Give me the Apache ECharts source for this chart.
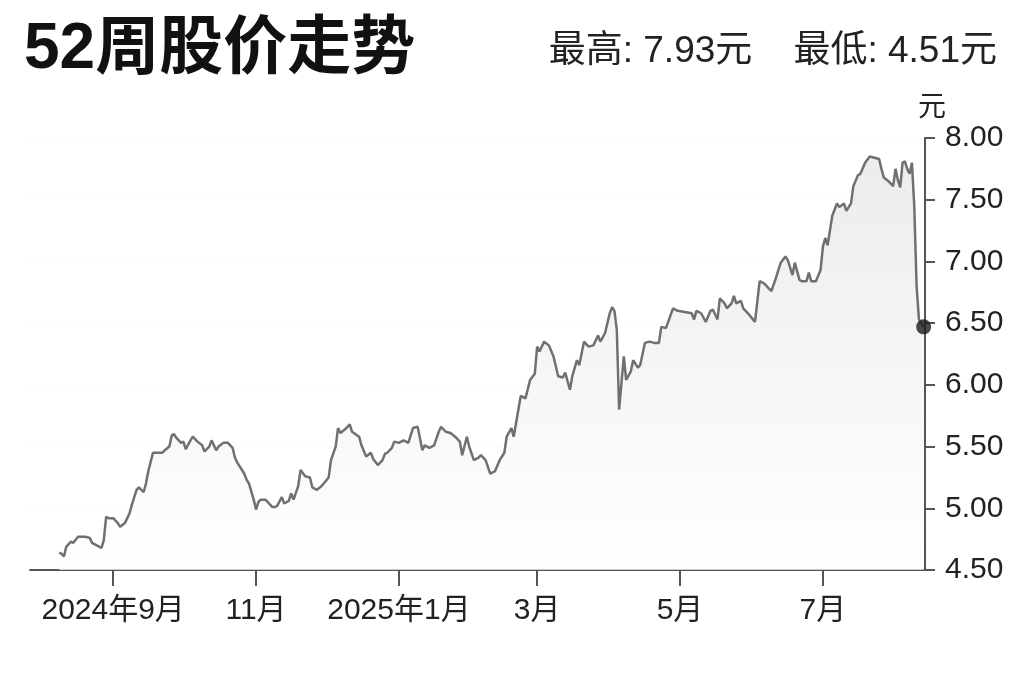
<!DOCTYPE html>
<html><head><meta charset="utf-8">
<script src="https://cdn.jsdelivr.net/npm/echarts@6/dist/echarts.min.js"></script>
<style>html,body{margin:0;padding:0;background:#fff}#c{width:1024px;height:682px}</style>
</head><body><div id="c"></div>
<script>
const titleText = '52周股价走势';
const highLowText = '最高: 7.93元    最低: 4.51元';
const yUnit = '元';
const tickDates = ['2024-09-01','2024-11-01','2025-01-01','2025-03-01','2025-05-01','2025-07-01'];
const tickLabels = ['2024年9月','11月','2025年1月','3月','5月','7月'];
const yMin = 4.5, yMax = 8, yStep = 0.5;

const dates = [
'2024-08-09','2024-08-10','2024-08-11','2024-08-12','2024-08-14','2024-08-15','2024-08-17','2024-08-20','2024-08-22','2024-08-23',
'2024-08-25','2024-08-27','2024-08-28','2024-08-29','2024-08-30','2024-09-01','2024-09-03','2024-09-04','2024-09-06','2024-09-08',
'2024-09-09','2024-09-11','2024-09-12','2024-09-14','2024-09-15','2024-09-16','2024-09-18','2024-09-20','2024-09-22','2024-09-23',
'2024-09-25','2024-09-26','2024-09-27','2024-09-28','2024-09-30','2024-10-01','2024-10-02','2024-10-04','2024-10-05','2024-10-07',
'2024-10-09','2024-10-10','2024-10-12','2024-10-13','2024-10-15','2024-10-16','2024-10-18','2024-10-20','2024-10-22','2024-10-23',
'2024-10-24','2024-10-25','2024-10-27','2024-10-28','2024-10-29','2024-10-31','2024-11-01','2024-11-02','2024-11-03','2024-11-05',
'2024-11-06','2024-11-08','2024-11-09','2024-11-10','2024-11-12','2024-11-13','2024-11-15','2024-11-16','2024-11-17','2024-11-19',
'2024-11-20','2024-11-22','2024-11-24','2024-11-25','2024-11-27','2024-11-29','2024-12-02','2024-12-03','2024-12-05','2024-12-06',
'2024-12-07','2024-12-09','2024-12-11','2024-12-12','2024-12-15','2024-12-16','2024-12-18','2024-12-20','2024-12-21','2024-12-23',
'2024-12-25','2024-12-26','2024-12-27','2024-12-29','2024-12-30','2025-01-01','2025-01-03','2025-01-05','2025-01-07','2025-01-09',
'2025-01-11','2025-01-12','2025-01-14','2025-01-16','2025-01-18','2025-01-19','2025-01-21','2025-01-23','2025-01-25','2025-01-27',
'2025-01-28','2025-01-30','2025-01-31','2025-02-02','2025-02-04','2025-02-05','2025-02-07','2025-02-09','2025-02-11','2025-02-13',
'2025-02-15','2025-02-16','2025-02-18','2025-02-19','2025-02-21','2025-02-22','2025-02-24','2025-02-26','2025-02-28','2025-03-01',
'2025-03-02','2025-03-04','2025-03-06','2025-03-08','2025-03-10','2025-03-12','2025-03-13','2025-03-15','2025-03-16','2025-03-18',
'2025-03-19','2025-03-21','2025-03-23','2025-03-25','2025-03-27','2025-03-28','2025-03-30','2025-04-01','2025-04-02','2025-04-03',
'2025-04-04','2025-04-05','2025-04-07','2025-04-08','2025-04-10','2025-04-11','2025-04-13','2025-04-14','2025-04-16','2025-04-18',
'2025-04-20','2025-04-22','2025-04-23','2025-04-25','2025-04-28','2025-04-30','2025-05-03','2025-05-06','2025-05-07','2025-05-08',
'2025-05-10','2025-05-12','2025-05-14','2025-05-15','2025-05-17','2025-05-18','2025-05-20','2025-05-21','2025-05-23','2025-05-24',
'2025-05-25','2025-05-27','2025-05-28','2025-05-30','2025-06-02','2025-06-04','2025-06-06','2025-06-07','2025-06-09','2025-06-11',
'2025-06-13','2025-06-15','2025-06-16','2025-06-18','2025-06-19','2025-06-21','2025-06-22','2025-06-24','2025-06-25','2025-06-26',
'2025-06-28','2025-06-30','2025-07-01','2025-07-02','2025-07-03','2025-07-05','2025-07-07','2025-07-08','2025-07-10','2025-07-11',
'2025-07-13','2025-07-14','2025-07-16','2025-07-17','2025-07-19','2025-07-21','2025-07-23','2025-07-25','2025-07-26','2025-07-27',
'2025-07-29','2025-07-31','2025-08-01','2025-08-02','2025-08-03','2025-08-04','2025-08-05','2025-08-06','2025-08-07','2025-08-08',
'2025-08-09','2025-08-10','2025-08-11','2025-08-13'
];
const prices = [
4.64,4.63,4.61,4.69,4.73,4.72,4.77,4.77,4.76,4.72,
4.70,4.68,4.74,4.93,4.92,4.92,4.88,4.85,4.88,4.96,
5.03,5.15,5.17,5.13,5.20,5.30,5.45,5.45,5.45,5.47,
5.50,5.59,5.60,5.57,5.53,5.54,5.48,5.55,5.58,5.54,
5.51,5.46,5.50,5.55,5.47,5.50,5.53,5.53,5.49,5.41,
5.37,5.34,5.28,5.23,5.20,5.07,4.99,5.05,5.07,5.07,
5.05,5.01,5.01,5.02,5.09,5.04,5.06,5.12,5.07,5.18,
5.31,5.26,5.25,5.17,5.15,5.18,5.25,5.39,5.50,5.65,
5.61,5.64,5.68,5.62,5.58,5.51,5.42,5.45,5.40,5.35,
5.39,5.44,5.45,5.49,5.54,5.53,5.55,5.53,5.65,5.66,
5.47,5.51,5.49,5.51,5.62,5.66,5.62,5.61,5.58,5.54,
5.43,5.58,5.50,5.39,5.41,5.43,5.39,5.28,5.30,5.39,
5.45,5.58,5.65,5.58,5.80,5.91,5.89,6.04,6.09,6.31,
6.27,6.35,6.32,6.23,6.07,6.06,6.10,5.96,6.07,6.20,
6.16,6.35,6.31,6.32,6.40,6.35,6.42,6.58,6.63,6.60,
6.45,5.80,6.23,6.04,6.11,6.20,6.14,6.16,6.34,6.35,
6.34,6.34,6.47,6.46,6.62,6.60,6.59,6.58,6.53,6.60,
6.58,6.51,6.60,6.61,6.53,6.70,6.66,6.62,6.66,6.72,
6.66,6.68,6.62,6.58,6.51,6.84,6.82,6.80,6.76,6.87,
6.99,7.04,7.01,6.89,6.99,6.85,6.84,6.84,6.91,6.84,
6.84,6.93,7.12,7.19,7.13,7.37,7.47,7.44,7.47,7.41,
7.47,7.61,7.70,7.71,7.80,7.85,7.84,7.83,7.75,7.68,
7.65,7.61,7.75,7.66,7.60,7.80,7.81,7.75,7.71,7.80,
7.45,6.80,6.53,6.47
];

function ts(s){ const p = s.split('-').map(Number); return new Date(p[0], p[1]-1, p[2]).getTime(); }
const tickTs = tickDates.map(ts);
const seriesData = dates.map((d,i)=>[ts(d), prices[i]]);
const last = seriesData[seriesData.length-1];
const FONT = '"Liberation Sans Narrow","Liberation Sans","Noto Sans CJK SC",sans-serif';
const FONT2 = '"Liberation Sans","Noto Sans CJK SC",sans-serif';

const chart = echarts.init(document.getElementById('c'));
chart.setOption({
  animation:false,
  backgroundColor:'#ffffff',
  title:[
    {text:titleText, left:19, top:13, textStyle:{fontSize:64, fontWeight:'bold', color:'#111', fontFamily:FONT2}},
    {text:highLowText, right:22, top:28, textStyle:{fontSize:37, fontWeight:'normal', color:'#222', fontFamily:FONT2}}
  ],
  grid:{left:30, right:99, top:138, bottom:112, containLabel:false},
  xAxis:{
    type:'value',
    min:new Date(2024,6,27,12).getTime(),
    max:new Date(2025,7,13,14).getTime(),
    axisLine:{show:true, lineStyle:{color:'#555', width:2}},
    axisTick:{show:true, customValues:tickTs, length:16, lineStyle:{color:'#555', width:2}},
    axisLabel:{show:true, customValues:tickTs, margin:26, fontSize:30, color:'#222', fontFamily:FONT,
      formatter:function(v){ for(let i=0;i<tickTs.length;i++){ if(Math.abs(tickTs[i]-v)<43200000) return tickLabels[i]; } return ''; }},
    splitLine:{show:false}
  },
  yAxis:{
    type:'value', position:'right', min:yMin, max:yMax, interval:yStep,
    name:yUnit, nameLocation:'end', nameGap:16,
    nameTextStyle:{fontSize:28, color:'#222', fontFamily:FONT2, padding:[0,0,0,14]},
    axisLine:{show:true, lineStyle:{color:'#555', width:2}},
    axisTick:{show:true, length:10, lineStyle:{color:'#555', width:2}},
    axisLabel:{margin:20, fontSize:30, color:'#222', fontFamily:FONT, formatter:v=>v.toFixed(2)},
    splitLine:{show:true, lineStyle:{color:'#fafafa', width:1}}
  },
  series:[
    {type:'line', data:seriesData, showSymbol:false, symbol:'none', z:2,
     lineStyle:{color:'#707070', width:2.5},
     areaStyle:{color:new echarts.graphic.LinearGradient(0,0,0,1,[{offset:0,color:'#e4e4e4'},{offset:1,color:'#ffffff'}])}},
    {type:'scatter', data:[last], symbolSize:15, z:5, itemStyle:{color:'#1a1a1a'}}
  ]
});
</script></body></html>
